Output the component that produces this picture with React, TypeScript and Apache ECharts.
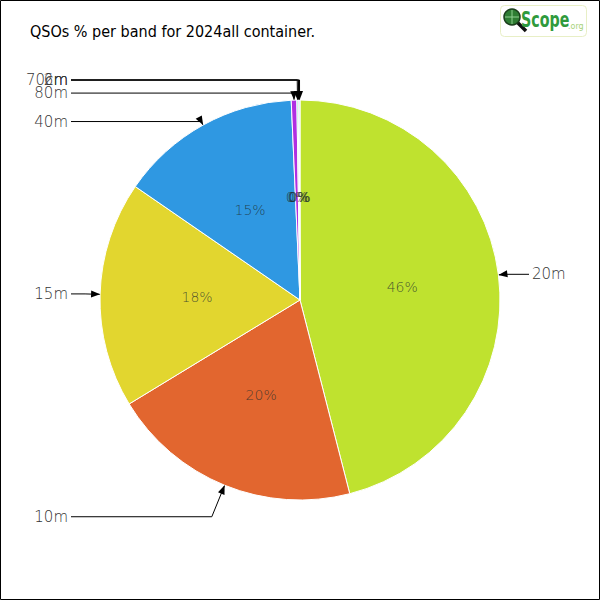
import React, { useEffect, useRef } from "react";
import * as echarts from "echarts";

const categories = ["20m", "10m", "15m", "40m", "80m", "70cm", "2m", "6m"];
const qsoCounts = [4600, 2030, 1830, 1470, 45, 10, 8, 7];
const sliceColors = ["#bfe22f", "#e2662f", "#e2d62f", "#2f98e2", "#b02fe2", "#2fe2b0", "#e22f8a", "#2fd6e2"];
const firstLegLength = [5, 34, 15, 4, 7, 20, 20, 20];

const CX = 300;
const CY = 300;
const R = 200;
const LEFT_LINE_END = 71;
const RIGHT_LINE_END = 529;

export default function App() {
  const ref = useRef<HTMLDivElement>(null);
  useEffect(() => {
    if (!ref.current) return;
    const chart = echarts.init(ref.current, null, { renderer: "svg" });
    const total = qsoCounts.reduce((a, b) => a + b, 0);
    let acc = 0;
    const mids = qsoCounts.map((v) => {
      const m = ((acc + v / 2) / total) * 2 * Math.PI;
      acc += v;
      return m;
    });

    const outerData = categories.map((name, i) => {
      const s = Math.sin(mids[i]);
      const L = firstLegLength[i];
      const x2 = CX + (R + L) * s;
      const left = s < 0;
      const L2 = left ? x2 - LEFT_LINE_END : RIGHT_LINE_END - x2;
      return {
        name,
        value: qsoCounts[i],
        itemStyle: { color: sliceColors[i] },
        labelLine: { length: L, length2: Math.max(L2, 1) },
      };
    });

    const innerData = categories.map((name, i) => ({ name, value: qsoCounts[i] }));

    const arrows = mids.map((a) => {
      const dx = Math.sin(a);
      const dy = -Math.cos(a);
      const tx = CX + R * dx;
      const ty = CY + R * dy;
      const bx = tx + dx * 9;
      const by = ty + dy * 9;
      const px = -dy * 3.5;
      const py = dx * 3.5;
      return {
        type: "polygon",
        silent: true,
        z: 100,
        shape: { points: [[tx, ty], [bx + px, by + py], [bx - px, by - py]] },
        style: { fill: "#000" },
      };
    });

    chart.setOption({
      animation: false,
      backgroundColor: "#fff",
      title: {
        text: "QSOs % per band for 2024all container.",
        left: 25,
        top: 18,
        textStyle: { fontSize: 16, fontWeight: "normal", color: "#000", fontFamily: "DejaVu Sans Condensed, DejaVu Sans" },
      },
      series: [
        {
          type: "pie",
          center: [CX, CY],
          radius: [0, R],
          startAngle: 90,
          clockwise: true,
          avoidLabelOverlap: false,
          labelLayout: { hideOverlap: false },
          itemStyle: { borderColor: "#fff", borderWidth: 1 },
          label: {
            show: true,
            position: "outside",
            formatter: "{b}",
            fontSize: 15,
            color: "#333",
            fontFamily: "DejaVu Sans",
            fontWeight: 200,
            distanceToLabelLine: 3,
          },
          labelLine: { show: true, lineStyle: { color: "#000", width: 1 }, smooth: false },
          emphasis: { disabled: true },
          data: outerData,
        },
        {
          type: "pie",
          center: [CX, CY],
          radius: [0, R],
          startAngle: 90,
          clockwise: true,
          silent: true,
          avoidLabelOverlap: false,
          labelLayout: { hideOverlap: false },
          itemStyle: { color: "rgba(0,0,0,0)", borderWidth: 0 },
          label: {
            show: true,
            position: "inside",
            formatter: (p: any) => Math.round(p.percent) + "%",
            fontSize: 14,
            color: "rgba(30,45,45,0.78)",
            fontFamily: "DejaVu Sans",
            fontWeight: 200,
          },
          labelLine: { show: false },
          emphasis: { disabled: true },
          data: innerData,
        },
      ],
      graphic: [
        ...arrows,
        {
          type: "rect",
          silent: true,
          shape: { x: 0.5, y: 0.5, width: 599, height: 599 },
          style: { fill: "none", stroke: "#000", lineWidth: 1 },
        },
        {
          type: "group",
          silent: true,
          children: [
            { type: "rect", shape: { x: 500.5, y: 5.5, width: 86, height: 31, r: 4 }, style: { fill: "#fff", stroke: "#e8efc6", lineWidth: 1 } },
            { type: "line", shape: { x1: 517, y1: 22, x2: 526, y2: 31 }, style: { stroke: "#111", lineWidth: 3.5 } },
            { type: "circle", shape: { cx: 512, cy: 17, r: 8 }, style: { fill: "#2e7d32", stroke: "#1b3d1b", lineWidth: 1.5 } },
            { type: "line", shape: { x1: 505, y1: 17, x2: 519, y2: 17 }, style: { stroke: "#8fd08f", lineWidth: 1 } },
            { type: "line", shape: { x1: 512, y1: 10, x2: 512, y2: 24 }, style: { stroke: "#8fd08f", lineWidth: 1 } },
            {
              type: "text",
              x: 521,
              y: 20,
              scaleX: 0.72,
              style: { text: "Scope", fontSize: 22, fontFamily: "DejaVu Sans Condensed, DejaVu Sans", fontWeight: "bold", fill: "#2f9a3c", textVerticalAlign: "middle" },
            },
            {
              type: "text",
              x: 568,
              y: 26,
              style: { text: ".org", fontSize: 8, fontFamily: "DejaVu Sans", fill: "#a6d27a", textVerticalAlign: "middle" },
            },
          ],
        },
      ],
    });
    return () => chart.dispose();
  }, []);
  return <div ref={ref} style={{ position: "fixed", left: 0, top: 0, width: 600, height: 600 }} />;
}
